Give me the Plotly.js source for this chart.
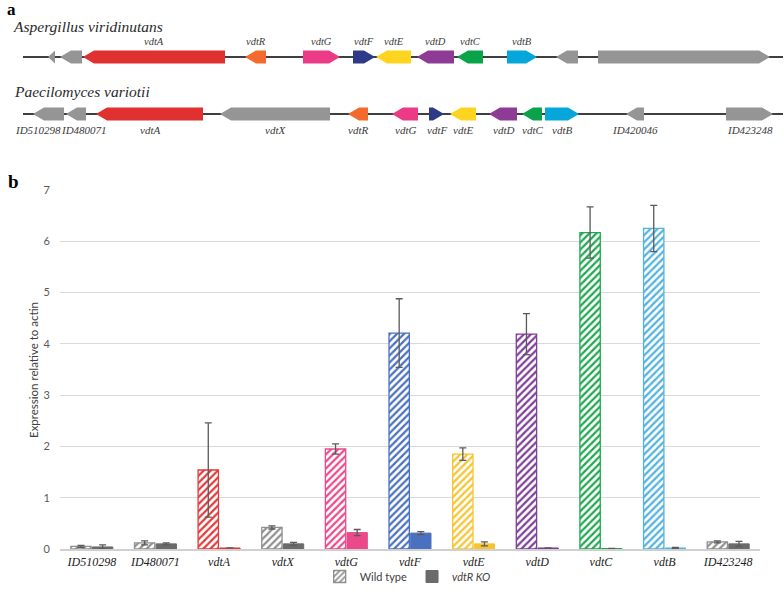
<!DOCTYPE html>
<html>
<head>
<meta charset="utf-8">
<script src="https://cdn.plot.ly/plotly-3.0.1.min.js"></script>
<style>html,body{margin:0;padding:0;background:#fff}#chart{width:784px;height:591px}</style>
</head>
<body>
<div id="chart"></div>
<script>
// ---------- Panel a: gene clusters (start, end, strand, name) ----------
const aspStart  = [48, 60, 83, 245, 303, 353, 376, 417, 457, 507, 556, 598];
const aspEnd    = [55, 82, 225, 266, 340, 375, 411, 454, 483, 537, 578, 770];
const aspStrand = [-1, -1, -1, -1, 1, 1, -1, -1, -1, 1, -1, 1];
const aspNames  = ['', '', 'vdtA', 'vdtR', 'vdtG', 'vdtF', 'vdtE', 'vdtD', 'vdtC', 'vdtB', '', ''];

const paeStart  = [33, 66, 96, 220, 348, 392, 429, 450, 489, 522, 545, 626, 726];
const paeEnd    = [64, 86, 203, 330, 368, 418, 444, 476, 517, 542, 579, 644, 773];
const paeStrand = [-1, -1, -1, -1, -1, -1, 1, -1, -1, -1, 1, -1, 1];
const paeNames  = ['ID510298', 'ID480071', 'vdtA', 'vdtX', 'vdtR', 'vdtG', 'vdtF', 'vdtE', 'vdtD', 'vdtC', 'vdtB', 'ID420046', 'ID423248'];

const locusStart = 23, locusEnd = 783;

// ---------- Panel b: expression ----------
const categories = ['ID510298', 'ID480071', 'vdtA', 'vdtX', 'vdtG', 'vdtF', 'vdtE', 'vdtD', 'vdtC', 'vdtB', 'ID423248'];
const wildType   = [0.05, 0.12, 1.54, 0.42, 1.95, 4.21, 1.85, 4.19, 6.17, 6.25, 0.14];
const wildTypeErr= [0.02, 0.04, 0.92, 0.03, 0.10, 0.67, 0.12, 0.40, 0.50, 0.45, 0.02];
const knockout   = [0.04, 0.10, 0.02, 0.10, 0.32, 0.31, 0.10, 0.02, 0.01, 0.02, 0.10];
const knockoutErr= [0.04, 0.02, 0.00, 0.03, 0.06, 0.03, 0.04, 0.00, 0.00, 0.01, 0.05];
const yTicks = [0, 1, 2, 3, 4, 5, 6, 7];

// ---------- styles ----------
const geneColor = {vdtA:'#e0302f', vdtR:'#f26a2d', vdtG:'#ec3b86', vdtF:'#2e3a87', vdtE:'#fdd520',
                   vdtD:'#8e3b96', vdtC:'#0aa34a', vdtB:'#05a7da'};
const geneGray = '#959595';
const barColor = {vdtA:'#e2393a', vdtG:'#ea4a8b', vdtF:'#4a70c0', vdtE:'#f7c431', vdtD:'#7e3f98',
                  vdtC:'#1fa84f', vdtB:'#52b3df'};
const wtGray = '#8f8f8f', koGray = '#6b6b6b';
const labelNudge = {ID510298: -11, ID480071: 8};

const shapes = [], annotations = [];
const halfH = 0.114, headLen = 11;

function drawRow(starts, ends, strands, names, row, labelsBelow) {
  shapes.push({type:'line', xref:'x2', yref:'y2', x0:locusStart, x1:locusEnd, y0:row, y1:row,
               line:{color:'#3f3f3f', width:1.8}, layer:'above'});
  for (let i = 0; i < starts.length; i++) {
    const s = starts[i], e = ends[i], len = e - s;
    const h = Math.min(headLen, len);
    const col = geneColor[names[i]] || geneGray;
    const top = row - halfH, bot = row + halfH;
    let p;
    if (strands[i] > 0) {
      const b = e - h;
      p = `M${s},${top} L${b},${top} L${e},${row} L${b},${bot} L${s},${bot} Z`;
    } else {
      const b = s + h;
      p = `M${e},${top} L${b},${top} L${s},${row} L${b},${bot} L${e},${bot} Z`;
    }
    shapes.push({type:'path', xref:'x2', yref:'y2', path:p, fillcolor:col, line:{width:0}, layer:'above'});
    if (names[i]) {
      annotations.push({xref:'x2', yref:'y2', x:(s+e)/2 + (labelNudge[names[i]]||0), y:row,
        text:names[i], showarrow:false, xanchor:'center',
        yanchor: labelsBelow ? 'top' : 'bottom', yshift: labelsBelow ? -8 : 8,
        font:{family:'Liberation Serif', size: labelsBelow ? 11 : 10.5, style:'italic', color:'#3a3a3a'}});
    }
  }
}
drawRow(aspStart, aspEnd, aspStrand, aspNames, 0, false);
drawRow(paeStart, paeEnd, paeStrand, paeNames, 1, true);

annotations.push(
  {xref:'paper', yref:'paper', x:5/784, y:1-9/591, xanchor:'left', yanchor:'middle', showarrow:false,
   text:'<b>a</b>', font:{family:'Liberation Serif', size:17, color:'#000'}},
  {xref:'paper', yref:'paper', x:11/784, y:1-26/591, xanchor:'left', yanchor:'middle', showarrow:false,
   text:'Aspergillus viridinutans', font:{family:'Liberation Serif', size:15.5, style:'italic', color:'#2a2a2a'}},
  {xref:'paper', yref:'paper', x:12/784, y:1-92/591, xanchor:'left', yanchor:'middle', showarrow:false,
   text:'Paecilomyces variotii', font:{family:'Liberation Serif', size:15.5, style:'italic', color:'#2a2a2a'}},
  {xref:'paper', yref:'paper', x:6/784, y:1-182/591, xanchor:'left', yanchor:'middle', showarrow:false,
   text:'<b>b</b>', font:{family:'Liberation Serif', size:19, color:'#000'}},
  {xref:'paper', yref:'paper', x:33/784, y:1-370/591, xanchor:'center', yanchor:'middle', showarrow:false,
   textangle:-90, text:'Expression relative to actin', font:{family:'Lato', size:11.5, color:'#404040'}}
);

const wtColors = categories.map(c => barColor[c] || wtGray);
const koColors = categories.map(c => barColor[c] || koGray);

const traces = [
  {type:'bar', name:'Wild type', x:categories, y:wildType, xaxis:'x', yaxis:'y',
   error_y:{type:'data', array:wildTypeErr, visible:true, color:'#5a5a5a', thickness:1.3, width:3.5},
   marker:{color:'white', line:{color:wtColors, width:1.3},
           pattern:{shape:'/', fgcolor:wtColors, bgcolor:'white', size:5, solidity:0.45, fillmode:'replace'}}},
  {type:'bar', name:'<i>vdtR KO</i>', x:categories, y:knockout, xaxis:'x', yaxis:'y',
   error_y:{type:'data', array:knockoutErr, visible:true, color:'#5a5a5a', thickness:1.3, width:3.5},
   marker:{color:koColors, line:{color:koColors, width:1}}}
];

const layout = {
  width:784, height:591,
  margin:{l:0, r:0, t:0, b:0},
  paper_bgcolor:'white', plot_bgcolor:'rgba(0,0,0,0)',
  showlegend:true,
  barmode:'group', bargap:0.32, bargroupgap:0.06,
  font:{family:'Lato', color:'#404040'},
  xaxis:{domain:[60/784, 760/784], anchor:'y', type:'category',
         showline:true, linecolor:'#d0d0d0', linewidth:1.5, ticks:'', showgrid:false, ticklabelstandoff:1,
         tickfont:{family:'Liberation Serif', size:12, style:'italic', color:'#222'}},
  yaxis:{domain:[1-549/591, 1-190/591], anchor:'x', range:[0,7], tickvals:yTicks,
         showgrid:true, gridcolor:'#d9d9d9', gridwidth:1, zeroline:false, showline:false, ticks:'',
         ticklabelstandoff:9,
         tickfont:{family:'Lato', size:11, color:'#595959'}},
  xaxis2:{domain:[0,1], anchor:'y2', range:[0,784], visible:false, fixedrange:true},
  yaxis2:{domain:[1-142/591, 1], anchor:'x2', range:[85/57, -1], visible:false, fixedrange:true},
  legend:{orientation:'h', x:0.52, xanchor:'center', y:0, yanchor:'bottom',
          bgcolor:'rgba(0,0,0,0)',
          font:{family:'Lato', size:11, color:'#404040'}, itemwidth:30, tracegroupgap:0},
  shapes:shapes, annotations:annotations
};

Plotly.newPlot('chart', traces, layout, {displayModeBar:false, staticPlot:true});
</script>
</body>
</html>
